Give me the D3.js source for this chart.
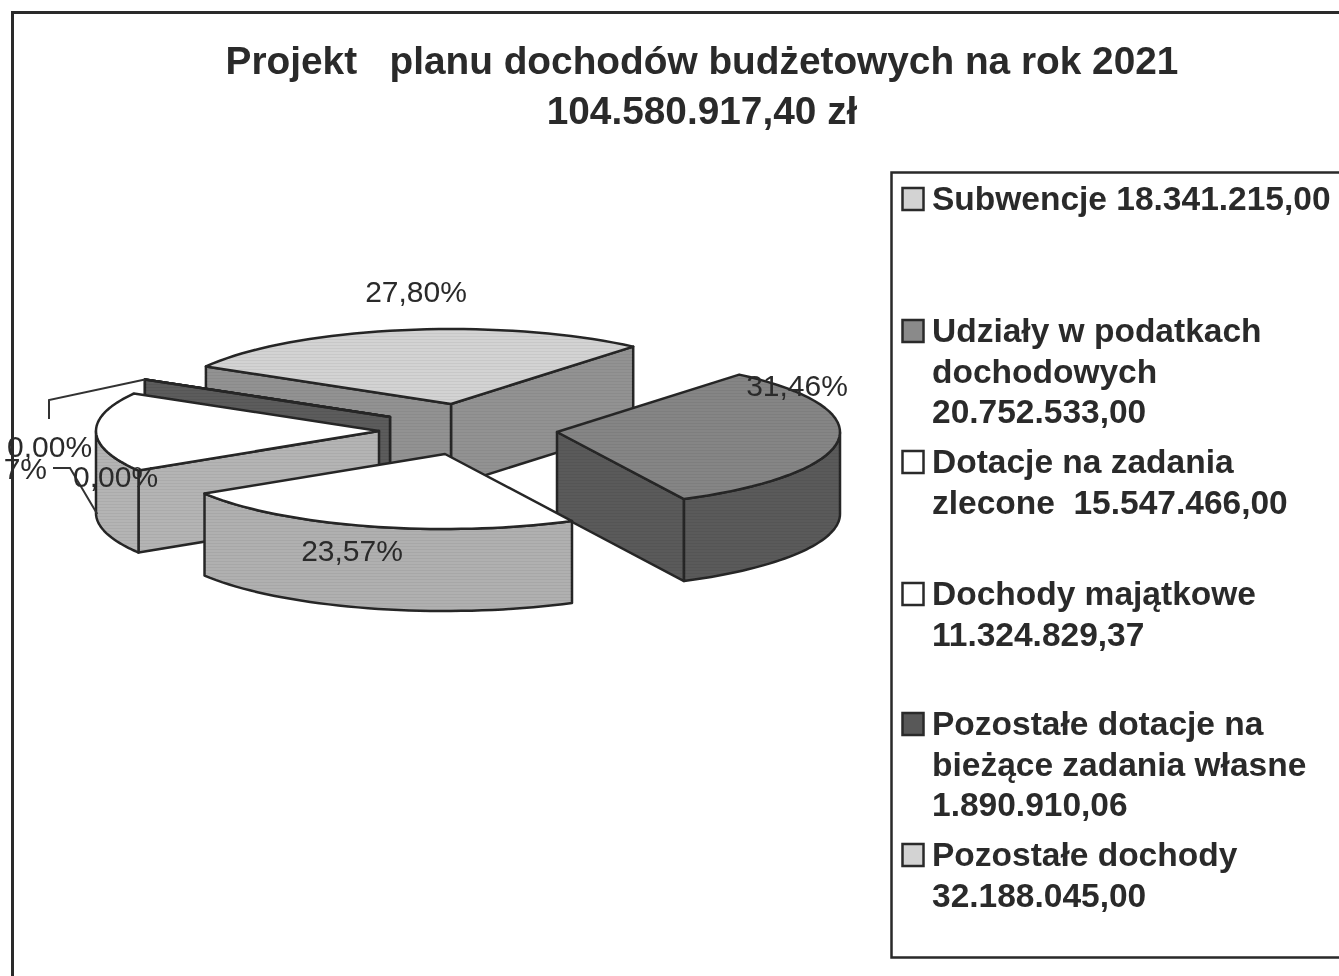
<!DOCTYPE html>
<html>
<head>
<meta charset="utf-8">
<script src="https://cdn.jsdelivr.net/npm/d3@7"></script>
<style>
  html, body { margin: 0; padding: 0; background: #fff; overflow: hidden; }
  text { font-family: "Liberation Sans", Arial, sans-serif; fill: #2b2b2b; white-space: pre; }
</style>
</head>
<body>
<div id="my_dataviz"></div>
<script>
// values (percent of the budget)
var shares = [27.80, 31.46, 23.57, 17.17, 0.00, 0.00];
var shareLabels = ["27,80%", "31,46%", "23,57%", "7%", "0,00%", "0,00%"];
var topColors = ["#d3d3d3", "#858585", "#ffffff", "#ffffff", "#5a5a5a", "#d3d3d3"];
var sideColors = ["#929292", "#5a5a5a", "#b0b0b0", "#b4b4b4", "#5c5c5c", "#929292"];
var titleLines = ["Projekt   planu dochodów budżetowych na rok 2021", "104.580.917,40 zł"];
var legendLines = [
  ["Subwencje 18.341.215,00"],
  ["Udziały w podatkach", "dochodowych", "20.752.533,00"],
  ["Dotacje na zadania", "zlecone  15.547.466,00"],
  ["Dochody majątkowe", "11.324.829,37"],
  ["Pozostałe dotacje na", "bieżące zadania własne", "1.890.910,06"],
  ["Pozostałe dochody", "32.188.045,00"]
];
var legendColors = ["#d3d3d3", "#8a8a8a", "#ffffff", "#ffffff", "#595959", "#d3d3d3"];

var width = 1339, height = 976;
var svg = d3.select("#my_dataviz").append("svg").attr("width", width).attr("height", height);

var defs = svg.append("defs");
defs.append("filter").attr("id", "scan").append("feGaussianBlur").attr("stdDeviation", 0.45);
// the fine screen the scan shows on the grey fills
var hatch = defs.append("pattern").attr("id", "hatch").attr("patternUnits", "userSpaceOnUse").attr("width", 4).attr("height", 3);
hatch.append("rect").attr("width", 4).attr("height", 1).attr("fill", "#000").attr("opacity", 0.05);

var root = svg.append("g").attr("filter", "url(#scan)");

// frame
root.append("path").attr("d", "M12.5,976V12.5H1339").attr("fill", "none").attr("stroke", "#2a2a2a").attr("stroke-width", 3);
root.append("path").attr("d", "M1339,957.5H891.5V172.5H1339").attr("fill", "none").attr("stroke", "#2a2a2a").attr("stroke-width", 2.5);

// title
root.selectAll(".title").data(titleLines).enter().append("text")
  .attr("class", "title")
  .attr("x", 702)
  .attr("y", function (d, i) { return 74 + i * 50; })
  .attr("text-anchor", "middle")
  .attr("font-weight", "bold")
  .attr("font-size", 38.8)
  .text(function (d) { return d; });

// pie: ellipse projected, angle 0 at the top, running clockwise
var centre = [451, 404], rx = 283, ry = 75, depth = 82;
var explode = [[0, 0], [106, 28], [-6, 50], [-72, 27], [-61, 13], [-61, 13]];
var drawOrder = [0, 5, 4, 3, 1, 2];

var arcs = d3.pie().sort(null).startAngle(-Math.PI / 3).endAngle(Math.PI * 5 / 3)(shares);
var line = d3.line();

function project(i, t, down) {
  return [
    centre[0] + explode[i][0] + rx * Math.sin(t),
    centre[1] + explode[i][1] - ry * Math.cos(t) + (down || 0)
  ];
}
function apex(i, down) {
  return [centre[0] + explode[i][0], centre[1] + explode[i][1] + (down || 0)];
}
function arcPoints(i, t0, t1, down) {
  return d3.range(0, 1.0001, 1 / 40).map(function (k) {
    return project(i, t0 + (t1 - t0) * k, down);
  });
}
function drawShape(pts, fill) {
  var d = line(pts) + "Z";
  root.append("path")
    .attr("d", d)
    .attr("fill", fill)
    .attr("stroke", "#262626")
    .attr("stroke-width", 2.5)
    .attr("stroke-linejoin", "round");
  if (fill != "#ffffff") {
    root.append("path").attr("d", d).attr("fill", "url(#hatch)");
  }
}
function drawFace(i, t) {
  drawShape([apex(i), project(i, t), project(i, t, depth), apex(i, depth)], sideColors[i]);
}

drawOrder.forEach(function (i) {
  var t0 = arcs[i].startAngle, t1 = arcs[i].endAngle;
  if (Math.sin(t1) > 0) drawFace(i, t1);
  if (Math.sin(t0) < 0) drawFace(i, t0);
  // outer wall, only the part that faces us
  var a = Math.max(t0, Math.PI / 2), b = Math.min(t1, Math.PI * 1.5);
  if (b > a) {
    drawShape(arcPoints(i, a, b).concat(arcPoints(i, b, a, depth)), sideColors[i]);
  }
  drawShape([apex(i)].concat(arcPoints(i, t0, t1)), topColors[i]);
});

// leader lines
var outerThin = project(4, arcs[4].startAngle);
var wallLeft = project(3, Math.PI * 1.47, 76);
root.append("path").attr("fill", "none").attr("stroke", "#333").attr("stroke-width", 2)
  .attr("d", line([[49, 419], [49, 400], outerThin]));
root.append("path").attr("fill", "none").attr("stroke", "#333").attr("stroke-width", 2)
  .attr("d", line([[53, 468], [70, 468], wallLeft]));

// data labels
var labelX = [416, 797, 352, 47, 7, 73];
var labelY = [302, 396, 561, 479, 457, 487];
var labelAnchor = ["middle", "middle", "middle", "end", "start", "start"];
root.selectAll(".label").data(shareLabels).enter().append("text")
  .attr("class", "label")
  .attr("x", function (d, i) { return labelX[i]; })
  .attr("y", function (d, i) { return labelY[i]; })
  .attr("text-anchor", function (d, i) { return labelAnchor[i]; })
  .attr("font-size", 30)
  .text(function (d) { return d; });

// legend
var legendY = [210, 342, 473, 605, 735, 866];
var legendStep = 40.5;
var legend = root.selectAll(".legend").data(legendLines).enter().append("g").attr("class", "legend");
legend.append("rect")
  .attr("x", 902.5)
  .attr("y", function (d, i) { return legendY[i] - 22; })
  .attr("width", 21)
  .attr("height", 22)
  .attr("fill", function (d, i) { return legendColors[i]; })
  .attr("stroke", "#2a2a2a")
  .attr("stroke-width", 2.5);
legend.each(function (lines, i) {
  d3.select(this).selectAll("text").data(lines).enter().append("text")
    .attr("x", 932)
    .attr("y", function (d, k) { return legendY[i] + k * legendStep; })
    .attr("font-weight", "bold")
    .attr("font-size", 33.5)
    .text(function (d) { return d; });
});
</script>
</body>
</html>
